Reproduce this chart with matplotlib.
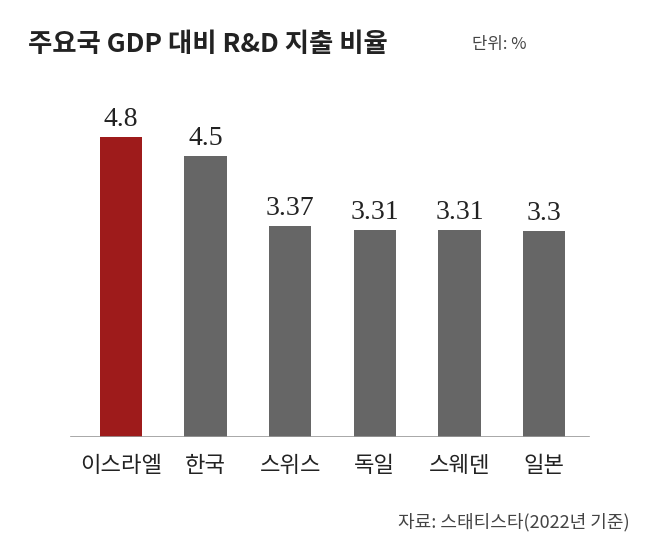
import matplotlib
matplotlib.use("Agg")
import matplotlib.pyplot as plt

countries = ["이스라엘", "한국", "스위스", "독일", "스웨덴", "일본"]
values = [4.8, 4.5, 3.37, 3.31, 3.31, 3.3]
labels = ["4.8", "4.5", "3.37", "3.31", "3.31", "3.3"]
colors = ["#9e1b1b", "#666666", "#666666", "#666666", "#666666", "#666666"]

CJK = ["Noto Sans CJK KR", "Noto Sans CJK JP", "Noto Sans CJK SC", "Noto Sans CJK TC", "DejaVu Sans"]
plt.rcParams["font.family"] = CJK

W, H = 647, 560
fig = plt.figure(figsize=(W/100, H/100), dpi=100)
ax = fig.add_axes([60/W, 123/H, 545/W, 377/H])
x = list(range(len(countries)))
ax.bar(x, values, width=0.5, color=colors)
for xi, v, t in zip(x, values, labels):
    ax.text(xi, v + 0.08, t, ha="center", va="bottom", fontsize=20,
            family="Liberation Serif", color="#222222")
ax.set_xlim(-0.72, 5.72)
ax.set_ylim(0, 6.03)
ax.axhline(0, color="#999999", lw=1.2, xmin=0.02, xmax=0.97)
for s in ax.spines.values():
    s.set_visible(False)
ax.set_yticks([])
ax.set_xticks(x)
ax.set_xticklabels(countries, fontsize=16, color="#222222")
ax.tick_params(axis="x", length=0, pad=12)

fig.text(28/W, 1-45/H, "주요국 GDP 대비 R&D 지출 비율", fontsize=19, fontweight="bold",
         va="center", color="#222222")
fig.text(472/W, 1-45/H, "단위: %", fontsize=12, va="center", color="#444444")
fig.text(630/W, 1-522/H, "자료: 스태티스타(2022년 기준)", fontsize=13,
         ha="right", va="center", color="#444444")
fig.savefig("out.png", dpi=100)
